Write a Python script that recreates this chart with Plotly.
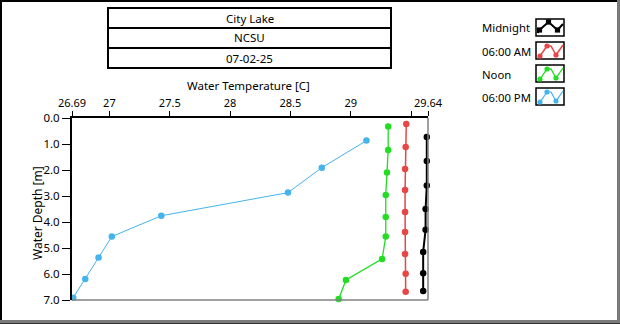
import plotly.graph_objects as go

# ---------------- data ----------------
title_lines = ["City Lake", "NCSU", "07-02-25"]
series_names = ["Midnight", "06:00 AM", "Noon", "06:00 PM"]
x_title = "Water Temperature [C]"
y_title = "Water Depth [m]"

midnight_depth = [0.73, 1.65, 2.60, 3.50, 4.30, 5.15, 5.97, 6.65]
midnight_temp = [29.63, 29.63, 29.63, 29.62, 29.62, 29.60, 29.60, 29.60]

am6_depth = [0.23, 1.12, 1.96, 2.77, 3.62, 4.38, 5.23, 5.99, 6.68]
am6_temp = [29.46, 29.455, 29.45, 29.45, 29.45, 29.45, 29.45, 29.455, 29.455]

noon_depth = [0.33, 1.23, 2.10, 2.96, 3.81, 4.56, 5.42, 6.23, 6.96]
noon_temp = [29.31, 29.31, 29.30, 29.29, 29.29, 29.29, 29.26, 28.96, 28.90]

pm6_depth = [0.87, 1.91, 2.87, 3.76, 4.56, 5.37, 6.19, 6.91]
pm6_temp = [29.13, 28.76, 28.48, 27.43, 27.02, 26.91, 26.80, 26.70]

x_tickvals = [26.69, 27, 27.5, 28, 28.5, 29, 29.5, 29.64]
x_ticktext = ["26.69", "27", "27.5", "28", "28.5", "29", "", "29.64"]
y_tickvals = [0, 1, 2, 3, 4, 5, 6, 7]

# ---------------- styles ----------------
W, H = 620, 324
FONT = "Noto Sans"
colors = ["#000000", "#e84545", "#22dd22", "#45b4ec"]
line_widths = [2, 1.5, 1.3, 1]

def px(x):
    return x / W

def py(y):
    return 1 - y / H

fig = go.Figure()
series = [
    (midnight_temp, midnight_depth),
    (am6_temp, am6_depth),
    (noon_temp, noon_depth),
    (pm6_temp, pm6_depth),
]
for (t, d), name, c, lw in zip(series, series_names, colors, line_widths):
    fig.add_trace(go.Scatter(
        x=t, y=d, name=name, mode="lines+markers",
        line=dict(color=c, width=lw),
        marker=dict(color=c, size=6.5, symbol="circle"),
        cliponaxis=False, showlegend=False,
    ))

shapes = []
annotations = []

# plot frame: gray right/bottom
shapes.append(dict(type="line", xref="paper", yref="paper",
                   x0=px(428), x1=px(428), y0=py(118), y1=py(300),
                   line=dict(color="#808080", width=1.5)))
shapes.append(dict(type="line", xref="paper", yref="paper",
                   x0=px(72), x1=px(428), y0=py(300), y1=py(300),
                   line=dict(color="#808080", width=1.5)))

# outer window frame
shapes.append(dict(type="line", xref="paper", yref="paper",
                   x0=px(1), x1=px(1), y0=py(0), y1=py(324),
                   line=dict(color="#000000", width=2)))
shapes.append(dict(type="line", xref="paper", yref="paper",
                   x0=px(0), x1=px(620), y0=py(1), y1=py(1),
                   line=dict(color="#000000", width=2)))
shapes.append(dict(type="line", xref="paper", yref="paper",
                   x0=px(618.5), x1=px(618.5), y0=py(0), y1=py(324),
                   line=dict(color="#7a7a7a", width=3)))
shapes.append(dict(type="line", xref="paper", yref="paper",
                   x0=px(0), x1=px(620), y0=py(321.5), y1=py(321.5),
                   line=dict(color="#7a7a7a", width=3)))
shapes.append(dict(type="line", xref="paper", yref="paper",
                   x0=px(0), x1=px(620), y0=py(323.5), y1=py(323.5),
                   line=dict(color="#303030", width=1)))

# title boxes
box_tops = [8, 28, 48]
for top, txt in zip(box_tops, title_lines):
    shapes.append(dict(type="rect", xref="paper", yref="paper",
                       x0=px(108), x1=px(391), y0=py(top), y1=py(top + 20),
                       line=dict(color="#000000", width=2), fillcolor="white"))
    annotations.append(dict(xref="paper", yref="paper", x=px(249.5), y=py(top + 10),
                            text=txt, showarrow=False, xanchor="center", yanchor="middle",
                            font=dict(family=FONT, size=11.5, color="#000000")))

# axis titles
annotations.append(dict(xref="paper", yref="paper", x=px(248), y=py(85),
                        text=x_title, showarrow=False, xanchor="center", yanchor="middle",
                        font=dict(family=FONT, size=11.5, color="#000000")))
annotations.append(dict(xref="paper", yref="paper", x=px(37), y=py(213),
                        text=y_title, showarrow=False, xanchor="center", yanchor="middle",
                        textangle=-90,
                        font=dict(family=FONT, size=12, color="#000000")))

# custom legend (text left, icon box right)
legend_tops = [19, 42, 65, 88]
for top, name, c, lw in zip(legend_tops, series_names, colors, line_widths):
    annotations.append(dict(xref="paper", yref="paper", x=px(480), y=py(top + 9),
                            text=name, showarrow=False, xanchor="left", yanchor="middle",
                            font=dict(family=FONT, size=11.3, color="#000000")))
    shapes.append(dict(type="rect", xref="paper", yref="paper",
                       x0=px(536), x1=px(564), y0=py(top), y1=py(top + 17),
                       line=dict(color="#000000", width=1.5), fillcolor="white"))
    if name == "Midnight":
        pts = [(537.5, top + 14), (539.5, top + 11), (548.5, top + 3), (557.5, top + 11), (563, top + 5)]
        mk = [pts[1], pts[2], pts[3]]
    else:
        pts = [(538, top + 16), (540, top + 14), (547, top + 4), (551, top + 4), (556, top + 13), (563, top + 3)]
        mk = [pts[1], pts[2], pts[4]]
    path = "M " + " L ".join(f"{px(x):.5f},{py(y):.5f}" for x, y in pts)
    shapes.append(dict(type="path", xref="paper", yref="paper", path=path,
                       line=dict(color=c, width=max(lw, 1.2))))
    for (mx, my) in mk:
        r = 2.6
        kind = "rect" if name == "Midnight" else "circle"
        shapes.append(dict(type=kind, xref="paper", yref="paper",
                           x0=px(mx - r), x1=px(mx + r), y0=py(my - r), y1=py(my + r),
                           line=dict(width=0), fillcolor=c))

fig.update_layout(
    width=W, height=H,
    margin=dict(l=0, r=0, t=0, b=0, pad=0),
    paper_bgcolor="white", plot_bgcolor="white",
    font=dict(family=FONT, size=12, color="#000000"),
    shapes=shapes, annotations=annotations,
    xaxis=dict(
        domain=[px(72), px(428)], side="top", range=[26.69, 29.64],
        automargin=False,
        tickmode="array", tickvals=x_tickvals, ticktext=x_ticktext,
        ticks="outside", ticklen=5, tickwidth=1, tickcolor="#000000",
        showline=True, linecolor="#000000", linewidth=2,
        showgrid=False, zeroline=False,
        tickfont=dict(family=FONT, size=11),
    ),
    yaxis=dict(
        domain=[py(300), py(118)], range=[7, 0],
        automargin=False,
        tickmode="array", tickvals=y_tickvals, tickformat=".1f",
        ticks="outside", ticklen=8, tickwidth=1, tickcolor="#000000",
        showline=True, linecolor="#000000", linewidth=2,
        showgrid=False, zeroline=False,
        tickfont=dict(family=FONT, size=11.5),
    ),
)

fig.write_html("out.html")
